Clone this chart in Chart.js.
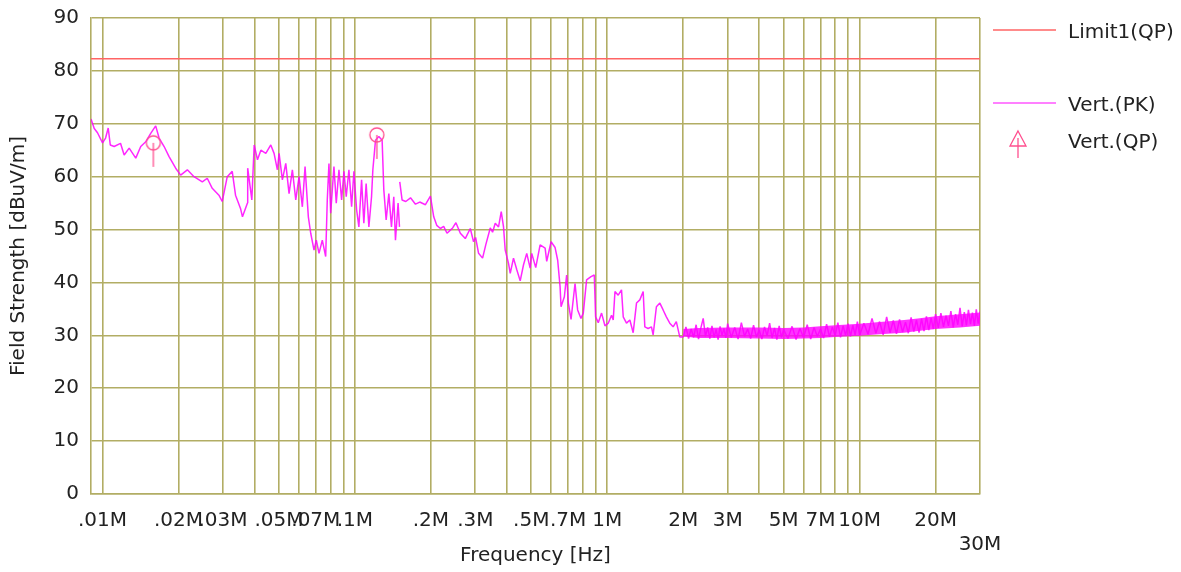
<!DOCTYPE html>
<html>
<head>
<meta charset="utf-8">
<script src="https://cdn.jsdelivr.net/npm/chart.js@4.4.1/dist/chart.umd.min.js"></script>
<style>
  html, body { margin: 0; padding: 0; background: #fff; }
</style>
</head>
<body>
<canvas id="myChart" width="1181" height="572"></canvas>
<script>
// frequencies in MHz, levels in dBuV/m

// limit line
const limitFreq = [0.009, 30];
const limitLevel = [82.3, 82.3];

// peak trace, 9 kHz - 150 kHz
const freqLow = [0.009, 0.00927, 0.00955, 0.0100, 0.01028, 0.01053, 0.01073, 0.01112, 0.01178, 0.01218,
  0.01275, 0.01354, 0.01417, 0.01483, 0.01552, 0.01624, 0.01675, 0.01754, 0.01835, 0.01949,
  0.02039, 0.02168, 0.02304, 0.02485, 0.0260, 0.02721, 0.02892, 0.0298, 0.0312, 0.03265,
  0.03365, 0.03521, 0.03585, 0.03752, 0.0376, 0.03905, 0.03989, 0.04111, 0.0424, 0.04436,
  0.04642, 0.04783, 0.0493, 0.05007, 0.0516, 0.05322, 0.05484, 0.05652, 0.0583, 0.06008,
  0.06191, 0.06346, 0.06539, 0.06683, 0.06887, 0.07031, 0.07207, 0.07427, 0.0766, 0.07772,
  0.07893, 0.08017, 0.0826, 0.08436, 0.08646, 0.0886, 0.09048, 0.0924, 0.0947, 0.09705,
  0.09909, 0.1016, 0.1037, 0.1063, 0.1085, 0.1108, 0.1136, 0.1164, 0.1178, 0.1207,
  0.1244, 0.1282, 0.1302, 0.133, 0.1363, 0.1396, 0.1426, 0.1448, 0.1483, 0.1502];
const levelLow = [70.9, 69.1, 68.3, 66.4, 67.3, 69.2, 66.0, 65.7, 66.3, 64.1,
  65.4, 63.5, 65.7, 66.6, 68.2, 69.6, 67.3, 65.7, 63.8, 61.6,
  60.3, 61.3, 60.0, 59.0, 59.7, 57.8, 56.5, 55.3, 60.0, 61.0,
  56.5, 54.0, 52.4, 55.0, 61.6, 55.6, 66.0, 63.2, 65.0, 64.4,
  66.0, 64.4, 61.3, 64.4, 59.4, 62.5, 56.8, 61.3, 55.6, 60.0,
  54.3, 61.9, 52.4, 49.3, 46.1, 48.0, 45.5, 48.0, 44.9, 55.6,
  62.5, 53.1, 61.9, 55.0, 61.3, 55.6, 61.0, 56.2, 61.3, 54.3,
  61.0, 53.7, 50.5, 59.4, 51.2, 58.7, 50.5, 56.2, 61.3, 66.9,
  67.6, 66.9, 57.5, 51.8, 56.8, 50.5, 56.2, 48.0, 55.0, 50.5];

// peak trace, 150 kHz - 2 MHz
const freqHigh = [0.1506, 0.1538, 0.1591, 0.1661, 0.1738, 0.1807, 0.1903, 0.1992, 0.2053, 0.211,
  0.2182, 0.2248, 0.2317, 0.2389, 0.244, 0.2514, 0.2617, 0.2738, 0.2866, 0.2953,
  0.3008, 0.3091, 0.3206, 0.3304, 0.3439, 0.3512, 0.3599, 0.3709, 0.3801, 0.3881,
  0.3942, 0.4062, 0.4126, 0.4251, 0.4381, 0.4519, 0.4656, 0.4797, 0.4949, 0.5021,
  0.5207, 0.542, 0.5673, 0.5756, 0.5991, 0.6213, 0.6362, 0.6502, 0.6561, 0.6761,
  0.6904, 0.7012, 0.7187, 0.7453, 0.7632, 0.787, 0.8037, 0.8283, 0.8622, 0.8884,
  0.8991, 0.9213, 0.9495, 0.9793, 1.009, 1.040, 1.056, 1.073, 1.105, 1.139,
  1.157, 1.192, 1.229, 1.267, 1.306, 1.346, 1.388, 1.409, 1.452, 1.497,
  1.520, 1.566, 1.616, 1.665, 1.715, 1.769, 1.824, 1.878, 1.938];
const levelHigh = [59.0, 55.6, 55.3, 56.0, 54.8, 55.2, 54.7, 56.3, 52.4, 50.8,
  50.2, 50.6, 49.3, 49.9, 50.3, 51.3, 49.3, 48.3, 50.2, 47.7,
  48.5, 45.5, 44.6, 47.2, 50.3, 49.5, 51.2, 50.5, 53.4, 50.5,
  46.1, 43.6, 41.7, 44.6, 42.4, 40.3, 43.3, 45.5, 42.7, 45.5,
  42.8, 47.1, 46.5, 44.0, 47.7, 46.6, 44.2, 39.2, 35.4, 37.3,
  41.4, 36.1, 33.0, 39.8, 34.8, 33.2, 34.2, 40.5, 41.1, 41.4,
  33.5, 32.4, 34.2, 31.8, 32.3, 33.8, 32.9, 38.3, 37.6, 38.6,
  33.5, 32.3, 32.9, 30.5, 36.1, 36.7, 38.3, 31.6, 31.3, 31.6,
  30.1, 35.4, 36.1, 34.8, 33.5, 32.3, 31.6, 32.6, 29.7];

// peak trace, 2 MHz - 30 MHz (noise floor)
const freqNoise = [2.00, 2.05, 2.10, 2.15, 2.20, 2.25, 2.30, 2.35, 2.40, 2.45,
  2.50, 2.55, 2.60, 2.65, 2.70, 2.75, 2.80, 2.85, 2.90, 2.95, 3.00,
  3.1, 3.2, 3.3, 3.4, 3.5, 3.6, 3.7, 3.8, 3.9, 4.0,
  4.1, 4.2, 4.3, 4.4, 4.5, 4.6, 4.7, 4.8, 4.9, 5.0,
  5.2, 5.4, 5.6, 5.8, 6.0, 6.2, 6.4, 6.6, 6.8, 7.0,
  7.2, 7.4, 7.6, 7.8, 8.0, 8.2, 8.4, 8.6, 8.8, 9.0,
  9.2, 9.4, 9.6, 9.8, 10.0,
  10.4, 10.8, 11.2, 11.6, 12.0, 12.4, 12.8, 13.2, 13.6, 14.0,
  14.4, 14.8, 15.2, 15.6, 16.0, 16.4, 16.8, 17.2, 17.6, 18.0,
  18.4, 18.8, 19.2, 19.6, 20.0,
  20.5, 21, 21.5, 22, 22.5, 23, 23.5, 24, 24.5, 25,
  25.5, 26, 26.5, 27, 27.5, 28, 28.5, 29, 29.5, 30];
const levelNoise = [29.7, 31.6, 29.4, 31.2, 29.6, 32.0, 29.3, 31.4, 33.2, 29.8,
  31.5, 29.4, 31.8, 29.6, 31.1, 29.2, 31.7, 30.0, 31.3, 29.5, 32.2,
  29.6, 31.5, 29.3, 32.4, 29.8, 31.2, 29.4, 31.9, 29.7, 31.0,
  29.3, 31.6, 29.9, 32.3, 29.5, 31.4, 29.2, 31.8, 29.6, 31.1,
  29.4, 31.7, 29.2, 31.3, 29.6, 32.0, 29.3, 31.5, 29.8, 31.2,
  29.5, 32.1, 29.7, 31.6, 29.9, 32.4, 29.6, 31.8, 30.0, 32.2,
  29.8, 31.9, 30.1, 32.6, 30.0,
  32.3, 30.2, 33.2, 30.4, 32.6, 30.1, 33.5, 30.5, 32.8, 30.3,
  33.0, 30.6, 32.5, 30.4, 33.4, 30.7, 32.9, 30.5, 33.1, 30.8,
  33.6, 31.0, 33.3, 31.2, 34.0,
  31.4, 34.2, 31.6, 33.7, 31.8, 34.6, 31.5, 34.0, 32.0, 35.2,
  31.7, 34.4, 31.9, 34.8, 32.1, 34.3, 31.8, 34.9, 32.2, 34.5];

// solid core of the noise floor (lower / upper edge)
const envFreq = [2.0, 2.3, 3, 4, 5, 6, 7, 8, 10, 12, 15, 17, 20, 25, 30];
const envLow = [29.8, 29.5, 29.5, 29.4, 29.3, 29.4, 29.5, 29.7, 29.9, 30.2, 30.5, 30.8, 31.2, 31.5, 31.8];
const envHigh = [31.2, 31.4, 31.5, 31.5, 31.4, 31.5, 31.7, 31.9, 32.2, 32.5, 32.9, 33.2, 33.6, 34.0, 34.3];

// quasi-peak readings
const qpFreq = [0.0159, 0.1222];
const qpLevel = [66.4, 67.9];

// axis
const gridFreqs = [0.01, 0.02, 0.03, 0.04, 0.05, 0.06, 0.07, 0.08, 0.09,
  0.1, 0.2, 0.3, 0.4, 0.5, 0.6, 0.7, 0.8, 0.9,
  1, 2, 3, 4, 5, 6, 7, 8, 9, 10, 20, 30];
const tickFreqs = [0.01, 0.02, 0.03, 0.05, 0.07, 0.1, 0.2, 0.3, 0.5, 0.7, 1, 2, 3, 5, 7, 10, 20, 30];
const tickLabels = ['.01M', '.02M', '.03M', '.05M', '.07M', '.1M', '.2M', '.3M', '.5M', '.7M',
  '1M', '2M', '3M', '5M', '7M', '10M', '20M', '30M'];

const FONT = 'DejaVu Sans, Verdana, sans-serif';
const TEXT = '#222222';
const GRID = 'rgb(178,173,100)';
const LIMIT_COLOR = '#ff6464';
const PK_COLOR = 'rgba(255,0,255,0.85)';
const QP_COLOR = '#ff4f8f';

function pairs(xs, ys) {
  const out = [];
  for (let i = 0; i < Math.min(xs.length, ys.length); i++) out.push({ x: xs[i], y: ys[i] });
  return out;
}

// gap between the two sweep ranges
const pkData = pairs(freqLow, levelLow)
  .concat([{ x: freqHigh[0], y: null }])
  .concat(pairs(freqHigh, levelHigh))
  .concat(pairs(freqNoise, levelNoise));

// QP marker on the plot: circle with a stem below
function qpMarker() {
  const c = document.createElement('canvas');
  c.width = 18; c.height = 54;
  const g = c.getContext('2d');
  g.strokeStyle = QP_COLOR;
  g.lineWidth = 1.3;
  g.beginPath(); g.arc(9, 27, 7, 0, Math.PI * 2); g.stroke();
  g.beginPath(); g.moveTo(9, 27); g.lineTo(9, 51); g.stroke();
  return c;
}

// legend on the right side
const sideLegend = {
  id: 'sideLegend',
  afterDraw(chart) {
    const ctx = chart.ctx;
    const ds = chart.data.datasets;
    ctx.save();
    ctx.font = '20px ' + FONT;
    ctx.fillStyle = TEXT;
    ctx.textBaseline = 'middle';
    ctx.textAlign = 'left';

    ctx.lineWidth = 1.6;
    ctx.strokeStyle = LIMIT_COLOR;
    ctx.beginPath(); ctx.moveTo(993, 30); ctx.lineTo(1056, 30); ctx.stroke();
    ctx.fillText(ds[0].label, 1068, 33);

    ctx.lineWidth = 2;
    ctx.strokeStyle = '#ff80ff';
    ctx.beginPath(); ctx.moveTo(993, 103); ctx.lineTo(1056, 103); ctx.stroke();
    ctx.fillText(ds[1].label, 1068, 106);

    ctx.lineWidth = 1.3;
    ctx.strokeStyle = QP_COLOR;
    ctx.beginPath();
    ctx.moveTo(1018, 131); ctx.lineTo(1026, 146); ctx.lineTo(1010, 146); ctx.closePath();
    ctx.stroke();
    ctx.beginPath(); ctx.moveTo(1018, 138); ctx.lineTo(1018, 158); ctx.stroke();
    ctx.fillStyle = TEXT;
    ctx.fillText(ds[2].label, 1068, 143);
    ctx.restore();
  }
};

const ctx = document.getElementById('myChart').getContext('2d');
const chart = new Chart(ctx, {
  type: 'line',
  data: {
    datasets: [
      {
        label: 'Limit1(QP)',
        data: pairs(limitFreq, limitLevel),
        borderColor: LIMIT_COLOR,
        borderWidth: 1.5,
        pointRadius: 0,
        order: 3
      },
      {
        label: 'Vert.(PK)',
        data: pkData,
        borderColor: PK_COLOR,
        borderWidth: 1.5,
        borderJoinStyle: 'bevel',
        pointRadius: 0,
        spanGaps: false,
        order: 1
      },
      {
        label: 'Vert.(QP)',
        data: pairs(qpFreq, qpLevel),
        showLine: false,
        pointStyle: qpMarker(),
        pointRadius: 7,
        order: 0
      },
      {
        label: 'noise upper',
        data: pairs(envFreq, envHigh),
        borderWidth: 0,
        pointRadius: 0,
        fill: '+1',
        backgroundColor: 'rgba(255,0,255,0.8)',
        order: 2
      },
      {
        label: 'noise lower',
        data: pairs(envFreq, envLow),
        borderWidth: 0,
        pointRadius: 0,
        fill: false,
        order: 2
      }
    ]
  },
  options: {
    responsive: false,
    animation: false,
    layout: { padding: { left: 0, right: 201, top: 18, bottom: 0 } },
    plugins: {
      legend: { display: false },
      tooltip: { enabled: false }
    },
    scales: {
      x: {
        type: 'logarithmic',
        min: 0.009,
        max: 30,
        afterBuildTicks: function (scale) {
          scale.ticks = gridFreqs.map(function (v) { return { value: v }; });
        },
        afterFit: function (scale) { scale.height = 78; },
        grid: { color: GRID, lineWidth: 1.6, drawTicks: false },
        border: { display: true, color: GRID, width: 1.6 },
        ticks: {
          autoSkip: false,
          maxRotation: 0,
          padding: 15,
          color: TEXT,
          font: { family: FONT, size: 20 },
          callback: function (value) {
            for (let i = 0; i < tickFreqs.length; i++) {
              if (Math.abs(value / tickFreqs[i] - 1) < 1e-6) {
                return i === tickFreqs.length - 1 ? ['', tickLabels[i]] : tickLabels[i];
              }
            }
            return '';
          }
        },
        title: {
          display: true,
          text: 'Frequency [Hz]',
          color: TEXT,
          font: { family: FONT, size: 20 },
          padding: { top: 0, bottom: 4 }
        }
      },
      y: {
        min: 0,
        max: 90,
        afterFit: function (scale) {
          scale.width = 91;
          // keep the top label from pushing the plot area down
          scale.paddingTop = 10;
          scale.paddingBottom = 10;
        },
        grid: { color: GRID, lineWidth: 1.6, drawTicks: false },
        border: { display: true, color: GRID, width: 1.6 },
        ticks: {
          stepSize: 10,
          padding: 12,
          color: TEXT,
          font: { family: FONT, size: 20 }
        },
        title: {
          display: true,
          text: 'Field Strength [dBuV/m]',
          color: TEXT,
          font: { family: FONT, size: 20 },
          padding: { top: 7, bottom: 0 }
        }
      }
    }
  },
  plugins: [sideLegend]
});
</script>
</body>
</html>
